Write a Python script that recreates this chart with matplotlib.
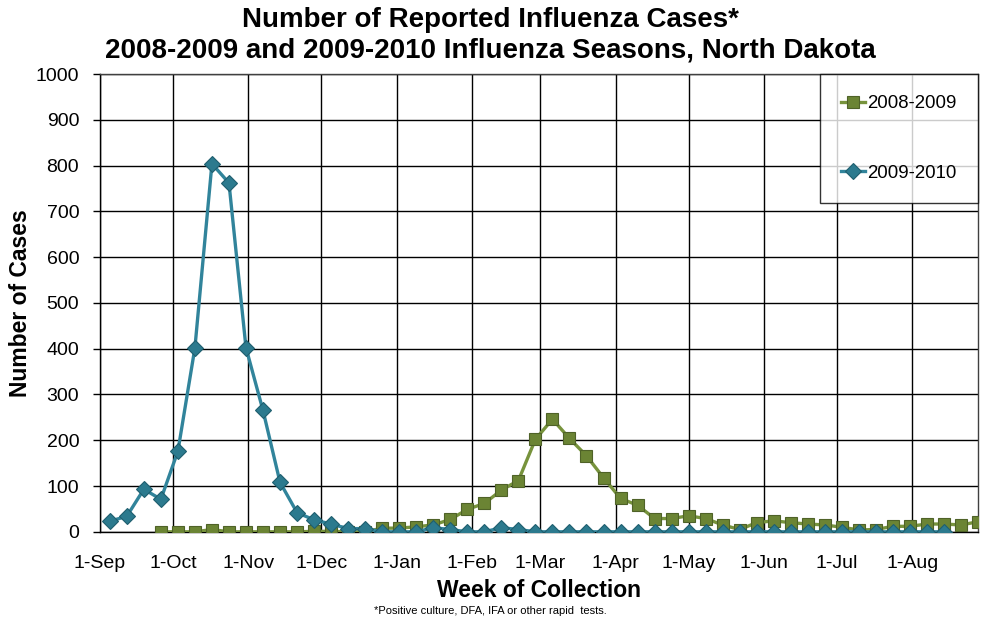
import numpy as np
import matplotlib
matplotlib.use("Agg")
import matplotlib.pyplot as plt

plt.rcParams['font.family'] = ['Liberation Sans', 'DejaVu Sans']

# Data: weekly reported cases, x = days after 1-Sep
month_labels = ['1-Sep', '1-Oct', '1-Nov', '1-Dec', '1-Jan', '1-Feb', '1-Mar',
                '1-Apr', '1-May', '1-Jun', '1-Jul', '1-Aug']
month_days = [0, 30, 61, 91, 122, 153, 181, 212, 242, 273, 303, 334]

start_0809 = 25
cases_0809 = [0, 0, 0, 5, 0, 0, 0, 0, 0, 1, 1, 0, 0, 8, 8, 11, 15, 27, 49, 62,
              91, 112, 202, 246, 204, 166, 118, 73, 58, 29, 29, 35, 29, 15, 5, 20,
              24, 20, 17, 15, 10, 4, 5, 12, 12, 17, 17, 15, 22]

start_0910 = 4
cases_0910 = [23, 34, 93, 71, 176, 402, 804, 762, 402, 265, 108, 42, 26, 17, 7, 7,
              0, 0, 0, 9, 5, 0, 0, 9, 5, 0, 0, 0, 0, 0, 0, 0, 0, 0, 0, 0,
              0, 0, 0, 0, 0, 0, 0, 0, 0, 0, 0, 0, 0, 0]

days_0809 = start_0809 + 7 * np.arange(len(cases_0809))
days_0910 = start_0910 + 7 * np.arange(len(cases_0910))

fig = plt.figure(figsize=(9.81, 6.22), dpi=100)
ax = fig.add_axes([0.102, 0.145, 0.895, 0.736])

ax.plot(days_0809, cases_0809, color='#77933C', lw=2.4, marker='s', ms=8,
        mfc='#6B8434', mec='#4F6228', mew=0.8, label='2008-2009', zorder=3)
ax.plot(days_0910, cases_0910, color='#31849B', lw=2.4, marker='D', ms=8.5,
        mfc='#2C7A8E', mec='#1F5F6F', mew=0.8, label='2009-2010', zorder=4)

ax.set_xlim(0, 361)
ax.set_ylim(0, 1000)
ax.set_yticks(np.arange(0, 1001, 100))
ax.set_xticks(month_days)
ax.set_xticklabels(month_labels)
ax.tick_params(axis='x', length=0, pad=17, labelsize=14)
ax.tick_params(axis='y', length=5, width=1, labelsize=14, pad=10)
ax.grid(True, color='black', lw=1)
ax.set_axisbelow(True)
for s in ax.spines.values():
    s.set_color('#404040')
    s.set_linewidth(1)
ax.spines['left'].set_color('black')
ax.spines['bottom'].set_color('black')

ax.set_ylabel('Number of Cases', fontsize=16.5, fontweight='bold', labelpad=3)
ax.set_xlabel('Week of Collection', fontsize=16.5, fontweight='bold', labelpad=5)

fig.suptitle('Number of Reported Influenza Cases*\n'
             '2008-2009 and 2009-2010 Influenza Seasons, North Dakota',
             x=0.5, y=0.988, fontsize=20, fontweight='bold', linespacing=1.2)
fig.text(0.5, 0.013, '*Positive culture, DFA, IFA or other rapid  tests.',
         ha='center', fontsize=8)

leg = ax.legend(loc='upper right', bbox_to_anchor=(1.0, 1.0), borderaxespad=0,
                fontsize=13.4, frameon=True, fancybox=False, edgecolor='black',
                labelspacing=2.8, borderpad=1.15, handlelength=1.3,
                handletextpad=0.1)
leg.get_frame().set_linewidth(1)

fig.savefig('out.png', dpi=100)
